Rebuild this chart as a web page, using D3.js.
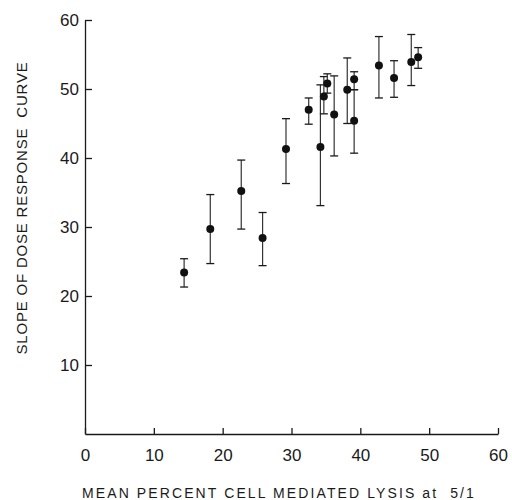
<!DOCTYPE html>
<html>
<head>
<meta charset="utf-8">
<script src="https://cdn.jsdelivr.net/npm/d3@7"></script>
<style>
  body { margin: 0; background: #fff; }
  svg { display: block; }
  text { white-space: pre; }
</style>
</head>
<body>
<div id="chart"></div>
<script>
// Data
var lysis = [14.4, 18.2, 22.7, 25.8, 29.2, 32.5, 34.2, 34.7, 35.2, 36.2, 38.1, 39.1, 39.1, 42.7, 44.9, 47.4, 48.4];
var slope = [23.4, 29.7, 35.2, 28.4, 41.3, 47.0, 41.6, 48.9, 50.8, 46.3, 49.9, 51.4, 45.4, 53.4, 51.6, 53.9, 54.6];
var errHigh = [25.4, 34.7, 39.7, 32.1, 45.7, 48.7, 50.6, 51.8, 52.2, 51.9, 54.5, 52.5, 49.9, 57.6, 54.1, 57.9, 56.0];
var errLow = [21.3, 24.7, 29.7, 24.4, 36.3, 44.9, 33.1, 46.4, 49.4, 40.3, 45.0, 49.9, 40.7, 48.7, 48.8, 50.5, 53.0];
var xTicks = [0, 10, 20, 30, 40, 50, 60];
var yTicks = [10, 20, 30, 40, 50, 60];

var svgWidth = 512;
var svgHeight = 500;

var margin = { top: 20, right: 14, bottom: 66, left: 85 };
var chartWidth = svgWidth - margin.left - margin.right;
var chartHeight = svgHeight - margin.top - margin.bottom;

var ink = "#1a1a1a";
var font = "'Liberation Sans', Arial, sans-serif";

var svg = d3.select("#chart")
  .append("svg")
  .attr("width", svgWidth)
  .attr("height", svgHeight);

var chartGroup = svg.append("g")
  .attr("transform", `translate(${margin.left}, ${margin.top})`);

var xScale = d3.scaleLinear().domain([0, 60]).range([0, chartWidth]);
var yScale = d3.scaleLinear().domain([0, 60]).range([chartHeight, 0]);

// axes, ticks pointing inward
var bottomAxis = chartGroup.append("g")
  .attr("transform", `translate(0, ${chartHeight})`)
  .call(d3.axisBottom(xScale).tickValues(xTicks).tickSizeInner(-6).tickSizeOuter(0).tickPadding(15));

var leftAxis = chartGroup.append("g")
  .call(d3.axisLeft(yScale).tickValues(yTicks).tickSizeInner(-7).tickSizeOuter(0).tickPadding(6));

chartGroup.selectAll(".domain, .tick line")
  .attr("stroke", ink)
  .attr("stroke-width", 1.3);

chartGroup.selectAll(".tick text")
  .attr("font-family", font)
  .attr("font-size", "17px")
  .attr("fill", ink);

// error bars
var bars = chartGroup.selectAll(".err")
  .data(lysis)
  .enter()
  .append("g")
  .attr("class", "err");

bars.append("line")
  .attr("x1", d => xScale(d))
  .attr("x2", d => xScale(d))
  .attr("y1", (d, i) => yScale(errHigh[i]))
  .attr("y2", (d, i) => yScale(errLow[i]))
  .attr("stroke", "#333")
  .attr("stroke-width", 1.2);

bars.append("line")
  .attr("x1", d => xScale(d) - 4)
  .attr("x2", d => xScale(d) + 4)
  .attr("y1", (d, i) => yScale(errHigh[i]))
  .attr("y2", (d, i) => yScale(errHigh[i]))
  .attr("stroke", ink)
  .attr("stroke-width", 1.3);

bars.append("line")
  .attr("x1", d => xScale(d) - 4)
  .attr("x2", d => xScale(d) + 4)
  .attr("y1", (d, i) => yScale(errLow[i]))
  .attr("y2", (d, i) => yScale(errLow[i]))
  .attr("stroke", ink)
  .attr("stroke-width", 1.3);

chartGroup.selectAll("circle")
  .data(lysis)
  .enter()
  .append("circle")
  .attr("cx", d => xScale(d))
  .attr("cy", (d, i) => yScale(slope[i]))
  .attr("r", 4)
  .attr("fill", "#111");

// axis titles
svg.append("text")
  .attr("x", 279)
  .attr("y", 498)
  .attr("text-anchor", "middle")
  .attr("font-family", font)
  .attr("font-size", "14px")
  .attr("letter-spacing", "2.1px")
  .attr("fill", ink)
  .text("MEAN PERCENT CELL MEDIATED LYSIS at  5/1");

svg.append("text")
  .attr("transform", "translate(27, 208) rotate(-90)")
  .attr("text-anchor", "middle")
  .attr("font-family", font)
  .attr("font-size", "15px")
  .attr("letter-spacing", "0.8px")
  .attr("fill", ink)
  .text("SLOPE OF DOSE RESPONSE  CURVE");
</script>
</body>
</html>
